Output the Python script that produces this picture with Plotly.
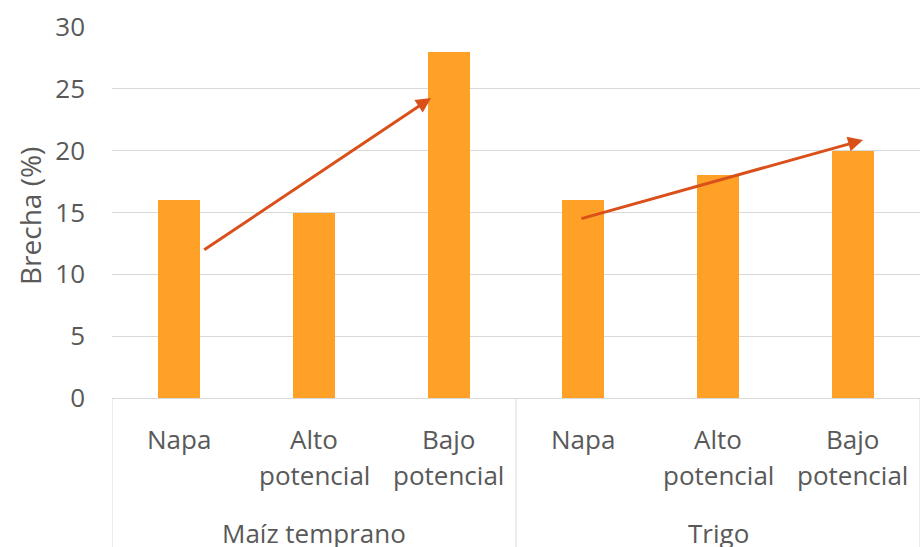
import plotly.graph_objects as go

# ---- data ----
groups = ["Maíz temprano", "Trigo"]
categories = ["Napa", "Alto potencial", "Bajo potencial"]
maiz_values = [16, 15, 28]
trigo_values = [16, 18, 20]
y_ticks = [0, 5, 10, 15, 20, 25, 30]
y_title = "Brecha (%)"
# trend arrows: (x_start, y_start, x_end, y_end) in data units (x = bar index)
arrow_maiz = [0.174, 11.9, 1.869, 24.26]
arrow_trigo = [2.975, 14.47, 5.077, 20.86]

BAR_COLOR = "#FEA126"
ARROW_COLOR = "#DA501A"
TEXT_COLOR = "#595959"
GRID_COLOR = "#D9D9D9"
FONT = "Open Sans"
FS = 26

values = maiz_values + trigo_values
xs = list(range(len(values)))

fig = go.Figure()
fig.add_trace(go.Bar(x=xs, y=values, width=0.31, marker=dict(color=BAR_COLOR, line=dict(width=0)),
                     showlegend=False, hoverinfo="y"))

annotations = []
shapes = []
n_cat = len(categories)
for gi, g in enumerate(groups):
    for ci, c in enumerate(categories):
        x = gi * n_cat + ci
        parts = c.split(" ", 1)
        annotations.append(dict(x=x, y=0, xref="x", yref="paper", text=parts[0], showarrow=False,
                                yanchor="middle", xanchor="center", yshift=-41,
                                font=dict(family=FONT, size=FS, color=TEXT_COLOR)))
        if len(parts) > 1:
            annotations.append(dict(x=x, y=0, xref="x", yref="paper", text=parts[1], showarrow=False,
                                    yanchor="middle", xanchor="center", yshift=-77,
                                    font=dict(family=FONT, size=FS, color=TEXT_COLOR)))
    annotations.append(dict(x=gi * n_cat + (n_cat - 1) / 2, y=0, xref="x", yref="paper", text=g,
                            showarrow=False, yanchor="middle", xanchor="center", yshift=-135,
                            font=dict(family=FONT, size=FS, color=TEXT_COLOR)))

for b in range(len(groups) + 1):
    xb = b * n_cat - 0.5
    shapes.append(dict(type="line", xref="x", yref="paper", x0=xb, x1=xb, y0=0, y1=-0.42,
                       line=dict(color=GRID_COLOR, width=1)))

for a in (arrow_maiz, arrow_trigo):
    annotations.append(dict(x=a[2], y=a[3], ax=a[0], ay=a[1], xref="x", yref="y", axref="x", ayref="y",
                            showarrow=True, arrowhead=2, arrowsize=1.0, arrowwidth=3,
                            arrowcolor=ARROW_COLOR, text="", standoff=0))

annotations.append(dict(x=0, y=0.4906, xref="paper", yref="paper", text=y_title, showarrow=False,
                        textangle=-90, xanchor="center", yanchor="middle", xshift=-82,
                        font=dict(family=FONT, size=FS + 2, color=TEXT_COLOR)))

fig.update_layout(
    width=920, height=547,
    margin=dict(l=112, r=0, t=27, b=149),
    paper_bgcolor="white", plot_bgcolor="white",
    xaxis=dict(range=[-0.5, len(values) - 0.5], showticklabels=False, showgrid=False, zeroline=False,
               showline=True, linecolor=GRID_COLOR, linewidth=1, ticks=""),
    yaxis=dict(range=[0, 30], tickvals=y_ticks, showgrid=True, gridcolor=GRID_COLOR, gridwidth=1,
               zeroline=False, showline=False, ticks="", ticklabelstandoff=26,
               tickfont=dict(family=FONT, size=FS, color=TEXT_COLOR)),
    annotations=annotations, shapes=shapes,
    bargap=0,
)

fig.write_html("out.html")
